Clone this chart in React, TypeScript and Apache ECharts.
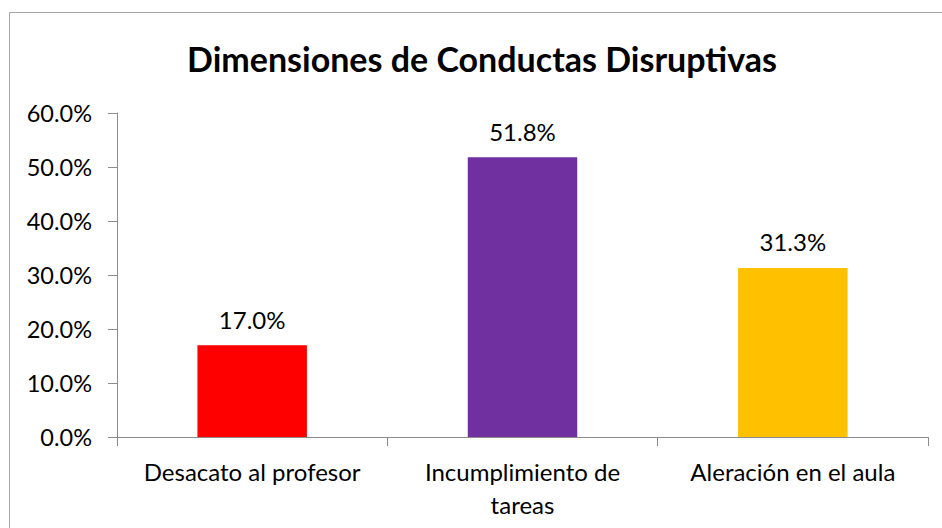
import React, { useEffect, useRef } from "react";
import * as echarts from "echarts";

const categories = ["Desacato al profesor", "Incumplimiento de\ntareas", "Aleración en el aula"];
const values = [17.0, 51.8, 31.3];
const barColors = ["#FF0000", "#7030A0", "#FFC000"];
const titleText = "Dimensiones de Conductas Disruptivas";

export default function App() {
  const ref = useRef<HTMLDivElement>(null);
  useEffect(() => {
    const chart = echarts.init(ref.current!, null, { renderer: "svg" });
    const font = "Lato, 'Open Sans', sans-serif";
    chart.setOption({
      animation: false,
      backgroundColor: "#ffffff",
      graphic: [
        {
          type: "rect",
          shape: { x: 9.5, y: 12.5, width: 1000, height: 600 },
          style: { fill: "none", stroke: "#a6a6a6", lineWidth: 1 },
          silent: true,
        },
        {
          type: "text",
          x: 482,
          y: 58,
          style: {
            text: titleText,
            fontFamily: font,
            fontWeight: "bold",
            fontSize: 34,
            fill: "#000",
            textAlign: "center",
            textVerticalAlign: "middle",
          },
        },
      ],
      grid: { left: 117, top: 113, right: 14, bottom: 91 },
      xAxis: {
        type: "category",
        data: categories,
        axisLine: { lineStyle: { color: "#8c8c8c", width: 1 } },
        axisTick: { show: true, length: 9, lineStyle: { color: "#8c8c8c" } },
        axisLabel: {
          color: "#000",
          fontFamily: font,
          fontSize: 24,
          lineHeight: 33,
          margin: 18,
          interval: 0,
        },
      },
      yAxis: {
        type: "value",
        min: 0,
        max: 60,
        interval: 10,
        axisLine: { show: true, lineStyle: { color: "#8c8c8c", width: 1 } },
        axisTick: { show: true, length: 9, lineStyle: { color: "#8c8c8c" } },
        splitLine: { show: false },
        axisLabel: {
          color: "#000",
          fontFamily: font,
          fontSize: 23.5,
          margin: 25,
          formatter: (v: number) => v.toFixed(1) + "%",
        },
      },
      series: [
        {
          type: "bar",
          data: values.map((v, i) => ({ value: v, itemStyle: { color: barColors[i] } })),
          barWidth: "40.5%",
          label: {
            show: true,
            position: "top",
            distance: 14,
            color: "#000",
            fontFamily: font,
            fontSize: 24,
            formatter: (p: any) => Number(p.value).toFixed(1) + "%",
          },
        },
      ],
    });
    return () => chart.dispose();
  }, []);
  return (
    <div
      ref={ref}
      style={{ position: "fixed", left: 0, top: 0, width: 942, height: 528 }}
    />
  );
}
